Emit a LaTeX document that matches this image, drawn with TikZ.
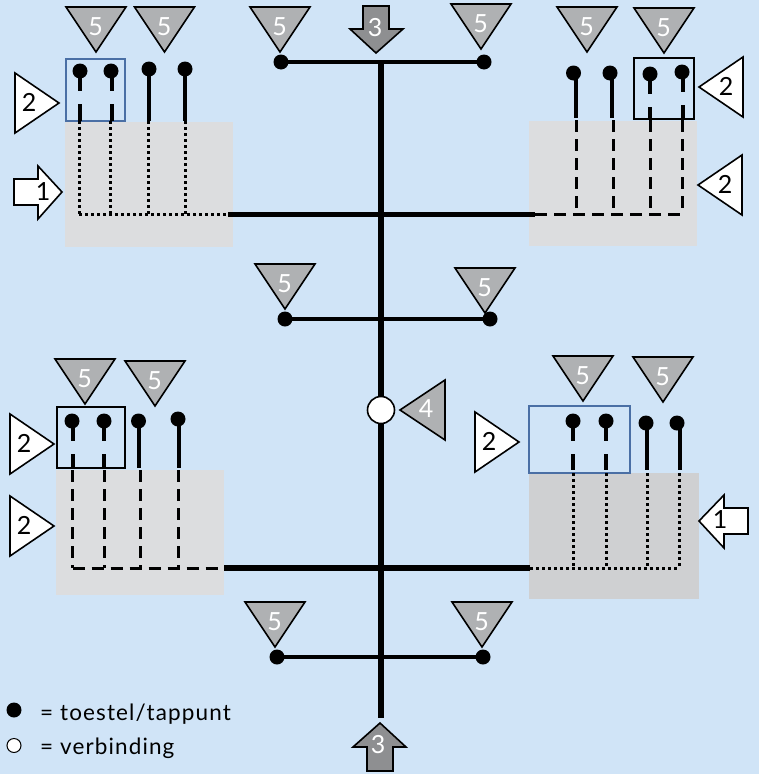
\documentclass[tikz,border=0pt]{standalone}
\usepackage{fontspec}
\setmainfont{Lato}
\newfontfamily\legendafont[LetterSpace=5]{Lato}
\definecolor{achtergrond}{HTML}{D0E4F7}
\definecolor{vlak}{HTML}{DCDDDF}
\definecolor{vlakdonker}{HTML}{CFD0D2}
\definecolor{merkgrijs}{HTML}{AFB1B3}
\definecolor{pijlgrijs}{HTML}{8E8F91}
\definecolor{kaderblauw}{HTML}{4A6FA5}
\tikzset{
    zone/.style={fill=vlak, inner sep=0pt, outer sep=0pt, anchor=north west},
    kader/.style={draw, line width=2pt, inner sep=0pt, outer sep=0pt, anchor=north west},
    tappunt/.style={circle, fill=black, inner sep=0pt, minimum size=15pt},
    verbinding/.style={circle, draw, fill=white, inner sep=0pt},
    merk/.style={draw, line width=1.6pt, line join=miter},
    cijfer/.style={font=\fontsize{25}{25}\selectfont, inner sep=0pt},
    leiding/.style={line width=5.5pt},
    tak/.style={line width=4pt},
    stam/.style={line width=4pt},
    onderbroken/.style={line width=4pt, dash pattern=on 20pt off 13pt on 40pt},
    stippel/.style={line width=3pt, dash pattern=on 3pt off 3pt},
    streep/.style={line width=3pt, dash pattern=on 12pt off 7pt},
    legenda/.style={font=\legendafont\fontsize{22.5}{22.5}\selectfont, inner sep=0pt, anchor=base west}
}
\begin{document}
\begin{tikzpicture}[x=1pt, y=-1pt]
    \fill[achtergrond] (0,0) rectangle (759,774);
    \useasboundingbox (0,0) rectangle (759,774);

    % vlakken
    \node[zone, minimum width=168pt, minimum height=125pt, name=zoneA] at (65,122) {};
    \node[zone, minimum width=168pt, minimum height=125pt, name=zoneB] at (529,121) {};
    \node[zone, minimum width=168pt, minimum height=125pt, name=zoneC] at (56,470) {};
    \node[zone, fill=vlakdonker, minimum width=170pt, minimum height=126pt, name=zoneD] at (529,473) {};

    % kaders
    \node[kader, draw=kaderblauw, minimum width=58.5pt, minimum height=62pt, name=kaderA] at (66,59) {};
    \node[kader, minimum width=60.5pt, minimum height=61pt, name=kaderB] at (633.5,57.5) {};
    \node[kader, minimum width=67.5pt, minimum height=61pt, name=kaderC] at (57,407) {};
    \node[kader, draw=kaderblauw, minimum width=101pt, minimum height=67pt, name=kaderD] at (528.5,405.5) {};

    % hoofdleiding
    \coordinate (boven) at (381,62);
    \coordinate (onder) at (381,718);
    \coordinate (linksA) at (228,214.5);
    \coordinate (rechtsA) at (535,214.5);
    \coordinate (linksB) at (224,568);
    \coordinate (rechtsB) at (530,568);
    \draw[leiding, line width=6pt] (boven) -- (onder);
    \draw[leiding] (linksA) -- (rechtsA);
    \draw[leiding] (linksB) -- (rechtsB);

    % aftakkingen
    \foreach \n/\xa/\ya/\xb/\yb in {a/281/62/484/62, b/285/319/490/319, c/277/657/483/657} {
        \node[tappunt, name=\n1] at (\xa,\ya) {};
        \node[tappunt, name=\n2] at (\xb,\yb) {};
        \draw[tak] (\n1.center) -- (\n2.center);
    }

    % groep linksboven
    \foreach \n/\x/\y/\xs/\xl/\s in {A1/80/71/80/79/onderbroken, A2/111/71/112/110.5/onderbroken, A3/149/69/149/148/stam, A4/185/69/185/185/stam} {
        \node[tappunt, name=tap\n] at (\x,\y) {};
        \coordinate (rand\n) at (\xs,121);
        \coordinate (voet\n) at (\xl,121);
        \coordinate (hoek\n) at (\xl,214.5);
        \draw[\s] (rand\n |- tap\n) -- (rand\n);
        \draw[stippel] (voet\n) -- (hoek\n);
    }
    \draw[stippel] (hoekA1) -- (linksA);

    % groep rechtsboven
    \foreach \n/\x/\y/\xs/\xl/\s in {B1/573.5/73/575.5/576/stam, B2/610/73/612/613/stam, B3/650/74/650/650/onderbroken, B4/682/72/682.5/682/onderbroken} {
        \node[tappunt, name=tap\n] at (\x,\y) {};
        \coordinate (rand\n) at (\xs,118);
        \coordinate (voet\n) at (\xl,120);
        \coordinate (hoek\n) at (\xl,214.5);
        \draw[\s] (rand\n |- tap\n) -- (rand\n);
        \draw[streep] (voet\n) -- (hoek\n);
    }
    \draw[streep] (rechtsA) -- (hoekB4);

    % groep linksonder
    \foreach \n/\x/\y/\xs/\xl/\s in {C1/72/421/72.5/72.5/onderbroken, C2/104/421/104/104/onderbroken, C3/138.5/421/139/140/stam, C4/178/419/178.5/178.5/stam} {
        \node[tappunt, name=tap\n] at (\x,\y) {};
        \coordinate (rand\n) at (\xs,468);
        \coordinate (voet\n) at (\xl,470);
        \coordinate (hoek\n) at (\xl,568);
        \draw[\s] (rand\n |- tap\n) -- (rand\n);
        \draw[streep] (voet\n) -- (hoek\n);
    }
    \draw[streep] (hoekC1) -- (linksB);

    % groep rechtsonder
    \foreach \n/\x/\y/\xs/\xl/\s in {D1/573/421/573/573/onderbroken, D2/606/421/606/606/onderbroken, D3/646/423/647/647/stam, D4/677/423/679.5/679/stam} {
        \node[tappunt, name=tap\n] at (\x,\y) {};
        \coordinate (rand\n) at (\xs,470);
        \coordinate (voet\n) at (\xl,473);
        \coordinate (hoek\n) at (\xl,568);
        \draw[\s] (rand\n |- tap\n) -- (rand\n);
        \draw[stippel] (voet\n) -- (hoek\n);
    }
    \draw[stippel] (rechtsB) -- (hoekD4);

    % verbinding
    \node[verbinding, line width=1.6pt, minimum size=27pt, name=knoop] at (381,410) {};

    % merktekens 5
    \foreach \n/\x/\y in {a/66/7, b/134.5/7, c/250/7, d/451/4, e/557/7, f/634/8, g/255/264, h/455/268, i/55/359, j/125/361, k/553/356, l/633/357, m/245/602, n/452/602} {
        \draw[merk, fill=merkgrijs] (\x,\y) -- ++(60,0) -- ++(-30,45) -- cycle;
        \node[cijfer, white, name=vijf\n] at (\x+29.5,\y+19.5) {5};
    }

    % merktekens 2 naar rechts
    \foreach \n/\x/\y in {a/15/73, b/10/414, c/10/496, d/475/412} {
        \draw[merk, fill=white] (\x,\y) -- ++(44,30) -- ++(-44,30) -- cycle;
        \node[cijfer, name=twee\n] at (\x+14,\y+29.5) {2};
    }

    % merktekens 2 naar links
    \foreach \n/\x/\y in {e/743/57, f/742/155} {
        \draw[merk, fill=white] (\x,\y) -- ++(-44,30) -- ++(44,30) -- cycle;
        \node[cijfer, name=twee\n] at (\x-17,\y+29) {2};
    }

    % merkteken 4
    \draw[merk, fill=merkgrijs] (445,380) -- (400,410) -- (445,440) -- cycle;
    \node[cijfer, white, name=vier] at (426,409) {4};

    % pijlen 1
    \draw[merk, fill=white] (14,179) -- (38,179) -- (38,166) -- (62,192) -- (38,219) -- (38,205) -- (14,205) -- cycle;
    \node[cijfer, name=eenA] at (43,192) {1};
    \draw[merk, fill=white] (748,508) -- (724,508) -- (724,495) -- (699,521) -- (724,548) -- (724,534) -- (748,534) -- cycle;
    \node[cijfer, name=eenB] at (720,520) {1};

    % pijlen 3
    \draw[merk, fill=pijlgrijs] (363,6) -- (389,6) -- (389,29) -- (403,29) -- (376,53) -- (350,29) -- (363,29) -- cycle;
    \node[cijfer, white, name=drieA] at (375,28) {3};
    \draw[merk, fill=pijlgrijs] (367,771) -- (393,771) -- (393,747) -- (406,747) -- (380,723) -- (353,747) -- (367,747) -- cycle;
    \node[cijfer, white, name=drieB] at (378,745) {3};

    % legenda
    \node[tappunt, name=legendaA] at (14,710) {};
    \node[verbinding, line width=1pt, minimum size=14pt, name=legendaB] at (14,745.5) {};
    \node[legenda, name=tekstA] at (40,720) {= toestel/tappunt};
    \node[legenda, name=tekstB] at (40,754) {= verbinding};
\end{tikzpicture}
\end{document}
